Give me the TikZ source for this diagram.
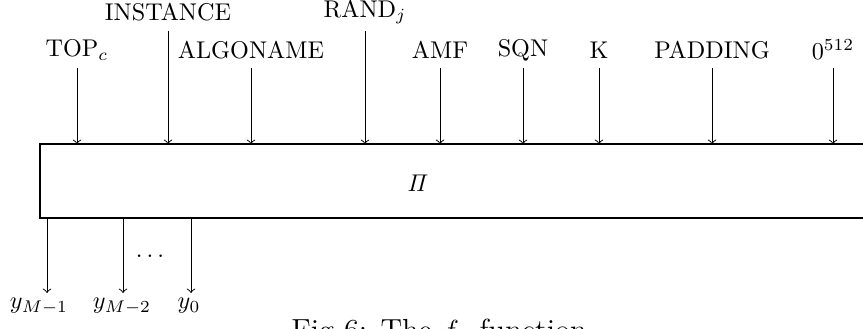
\documentclass[tikz,border=0pt]{standalone}
\begin{document}
\begin{tikzpicture}[x=0.4132pt,y=-0.4132pt,
  lbl/.style={inner sep=0pt,anchor=center},
  arr/.style={->},
  blk/.style={draw,line width=0.45pt}]
\useasboundingbox (0,0) rectangle (863,329);
\clip (0,0) rectangle (863,329);
% main box (runs off the right edge)
\coordinate (bnw) at (40,144);
\coordinate (bse) at (900,218);
\draw[blk] (bse |- bnw) -- (bnw) -- (bnw |- bse) -- (bse);
\node[lbl] (pi) at (418,183) {$\mathit{\Pi}$};
\coordinate (btop) at (40,144);
\coordinate (bbot) at (40,218);
% input labels
\node[lbl] (top) at (77,50) {TOP$_c$};
\node[lbl] (inst) at (168,12) {INSTANCE};
\node[lbl] (alg) at (251,50) {ALGONAME};
\node[lbl] (rand) at (365,12) {RAND$_j$};
\node[lbl] (amf) at (440,50) {AMF};
\node[lbl] (sqn) at (523,50) {SQN};
\node[lbl] (k) at (599,50) {K};
\node[lbl] (pad) at (712,50) {PADDING};
\node[lbl] (zero) at (833,50) {0$^{512}$};
% input arrow starts
\foreach \n/\x/\y in {a1/77/68, a2/168/31, a3/251/68, a4/365/31, a5/440/68, a6/523/68, a7/599/68, a8/712/68, a9/833/68}
  \coordinate (\n) at (\x,\y);
\foreach \n in {a1,a2,a3,a4,a5,a6,a7,a8,a9}
  \draw[arr] (\n) -- (\n |- btop);
% outputs
\node[lbl] (ym1) at (39,306) {$y_{M-1}$};
\node[lbl] (ym2) at (122,306) {$y_{M-2}$};
\node[lbl] (y0) at (189,306) {$y_0$};
\node[lbl] (dots) at (150,256) {$\dots$};
\foreach \n/\x in {o1/47, o2/123, o3/191}
  \coordinate (\n) at (\x,293);
\foreach \n in {o1,o2,o3}
  \draw[arr] (\n |- bbot) -- (\n);
% caption (cut off at the bottom, as in the reference)
\node[anchor=base,inner sep=0pt,font=\fontsize{12.6}{15}\selectfont] (cap) at (439,341) {Fig 6: The $f$\hspace{0.35em} function};
\end{tikzpicture}
\end{document}
